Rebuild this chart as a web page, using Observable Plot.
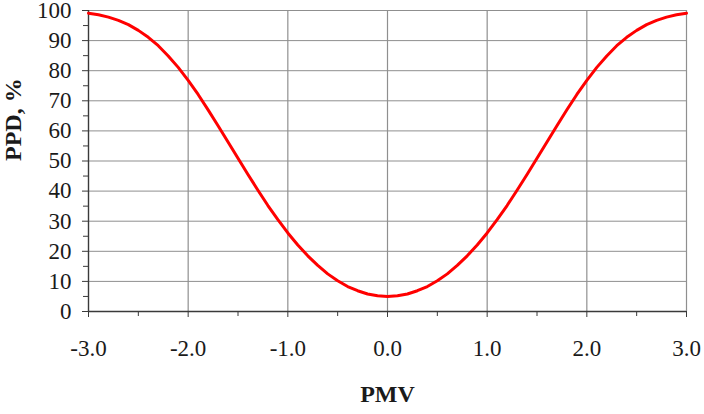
<!DOCTYPE html>
<html>
<head>
<meta charset="utf-8">
<script src="https://cdn.jsdelivr.net/npm/d3@7"></script>
<script src="https://cdn.jsdelivr.net/npm/@observablehq/plot@0.6"></script>
<style>
  html, body { margin: 0; padding: 0; background: #fff; }
  #chart svg { display: block; }
  #chart svg, #chart svg text { font-family: "Liberation Serif", "Times New Roman", Times, serif !important; }
</style>
</head>
<body>
<div id="chart"></div>
<script>
// PMV values (x) and PPD values (y)
const pmv = [-3.0,-2.9,-2.8,-2.7,-2.6,-2.5,-2.4,-2.3,-2.2,-2.1,-2.0,-1.9,-1.8,-1.7,-1.6,-1.5,-1.4,-1.3,-1.2,-1.1,-1.0,-0.9,-0.8,-0.7,-0.6,-0.5,-0.4,-0.3,-0.2,-0.1,
  0.0,0.1,0.2,0.3,0.4,0.5,0.6,0.7,0.8,0.9,1.0,1.1,1.2,1.3,1.4,1.5,1.6,1.7,1.8,1.9,2.0,2.1,2.2,2.3,2.4,2.5,2.6,2.7,2.8,2.9,3.0];
const ppd = [99.1,98.6,97.8,96.7,95.3,93.4,91.1,88.3,84.9,81.1,76.8,72.1,67.0,61.7,56.3,50.9,45.5,40.3,35.2,30.5,26.1,22.1,18.5,15.3,12.5,10.2,8.3,6.9,5.8,5.2,
  5.0,5.2,5.8,6.9,8.3,10.2,12.5,15.3,18.5,22.1,26.1,30.5,35.2,40.3,45.5,50.9,56.3,61.7,67.0,72.1,76.8,81.1,84.9,88.3,91.1,93.4,95.3,96.7,97.8,98.6,99.1];

const xTicks = [-3, -2, -1, 0, 1, 2, 3];
const xTickLabels = ["-3.0", "-2.0", "-1.0", "0.0", "1.0", "2.0", "3.0"];
const xMinorTicks = [-2.5, -1.5, -0.5, 0.5, 1.5, 2.5];
const yTicks = [0, 10, 20, 30, 40, 50, 60, 70, 80, 90, 100];
const yTickLabels = ["0", "10", "20", "30", "40", "50", "60", "70", "80", "90", "100"];
const yMinorTicks = [5, 15, 25, 35, 45, 55, 65, 75, 85, 95];
const xDomain = [-3, 3];
const yDomain = [0, 100];
const xLabel = "PMV";
const yLabel = "PPD, %";

const data = pmv.map((x, i) => ({pmv: x, ppd: ppd[i]}));

const serif = "Liberation Serif, Times New Roman, serif";
const gridColor = "#8f8f8f";
const axisColor = "#3a3a3a";
const textColor = "#1a1a1a";

const chart = Plot.plot({
  width: 704,
  height: 414,
  marginTop: 10,
  marginBottom: 103,
  marginLeft: 88,
  marginRight: 18,
  style: {fontFamily: serif, fontSize: "23px", color: textColor, background: "#fff"},
  x: {domain: xDomain},
  y: {domain: yDomain},
  marks: [
    Plot.gridY({ticks: yTicks, stroke: gridColor, strokeOpacity: 1, strokeWidth: 1}),
    Plot.gridX({ticks: xTicks, stroke: gridColor, strokeOpacity: 1, strokeWidth: 1.2}),
    Plot.axisY({ticks: yMinorTicks, tickSize: 5, text: null, label: null, stroke: axisColor}),
    Plot.axisY({ticks: yTicks, tickSize: 6, tickPadding: 11, label: null, stroke: axisColor,
      tickFormat: (d, i) => yTickLabels[i], fontSize: 23, fill: textColor}),
    Plot.axisX({ticks: xMinorTicks, tickSize: 5, text: null, label: null, stroke: axisColor}),
    Plot.axisX({ticks: xTicks, tickSize: 6, tickPadding: 22, label: null, stroke: axisColor,
      tickFormat: (d, i) => xTickLabels[i], fontSize: 23, fill: textColor}),
    Plot.ruleY([yDomain[0]], {stroke: axisColor, strokeWidth: 1.3}),
    Plot.ruleX([xDomain[0]], {stroke: axisColor, strokeWidth: 1.3}),
    Plot.line(data, {x: "pmv", y: "ppd", stroke: "#ff0000", strokeWidth: 3, curve: "linear"}),
    Plot.text([xLabel], {frameAnchor: "bottom", dy: 90, lineAnchor: "bottom", text: d => d,
      fontSize: 24, fontWeight: "bold", fill: textColor}),
    Plot.text([yLabel], {frameAnchor: "left", dx: -68, rotate: -90, lineAnchor: "bottom", text: d => d,
      fontSize: 24, fontWeight: "bold", fill: textColor})
  ]
});

document.getElementById("chart").appendChild(chart);
</script>
</body>
</html>
